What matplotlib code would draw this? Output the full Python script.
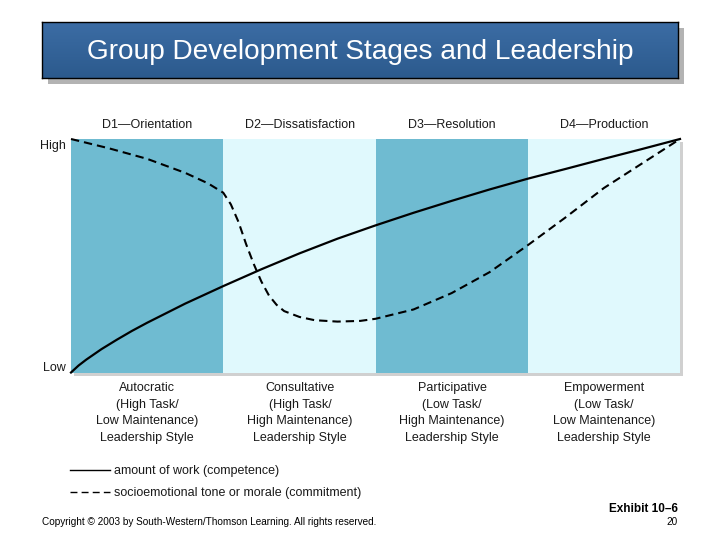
import numpy as np
import matplotlib
matplotlib.use("Agg")
import matplotlib.pyplot as plt
from matplotlib.patches import Rectangle
from matplotlib.lines import Line2D

# stages and labels
stages = ["D1\u2014Orientation", "D2\u2014Dissatisfaction", "D3\u2014Resolution", "D4\u2014Production"]
styles = [
    "Autocratic\n(High Task/\nLow Maintenance)\nLeadership Style",
    "Consultative\n(High Task/\nHigh Maintenance)\nLeadership Style",
    "Participative\n(Low Task/\nHigh Maintenance)\nLeadership Style",
    "Empowerment\n(Low Task/\nLow Maintenance)\nLeadership Style",
]
band_colors = ["#6fbbd1", "#e0f9fd", "#6fbbd1", "#e0f9fd"]

# amount of work (competence) - solid
work_x = [0, 0.05, 0.1, 0.2, 0.3, 0.4, 0.5, 0.75, 1.0, 1.25, 1.5, 1.75, 2.0, 2.25, 2.5, 2.75, 3.0, 3.25, 3.5, 3.75, 4.0]
work_y = [0, 0.03, 0.055, 0.1, 0.14, 0.178, 0.213, 0.295, 0.37, 0.442, 0.51, 0.573, 0.63, 0.684, 0.735, 0.784, 0.83, 0.872, 0.915, 0.957, 1.0]

# socioemotional tone or morale (commitment) - dashed
morale_x = [0, 0.25, 0.5, 0.75, 0.9, 1.0, 1.05, 1.1, 1.15, 1.2, 1.25, 1.3, 1.35, 1.4, 1.5, 1.6, 1.75, 1.9, 2.0, 2.25, 2.5, 2.75, 3.0, 3.25, 3.5, 3.75, 4.0]
morale_y = [1.0, 0.96, 0.915, 0.855, 0.81, 0.77, 0.72, 0.645, 0.55, 0.465, 0.39, 0.33, 0.29, 0.263, 0.238, 0.224, 0.218, 0.221, 0.23, 0.27, 0.34, 0.43, 0.545, 0.665, 0.79, 0.895, 1.0]

W, H = 720, 540
FONT = ["Liberation Sans", "DejaVu Sans"]
plt.rcParams["font.family"] = FONT
TXT = "#1a1a1a"
FS = 9

fig = plt.figure(figsize=(7.2, 5.4), dpi=100)
fig.patch.set_facecolor("white")


def fx(px):
    return px / W


def fy(py):
    return 1 - py / H


# title box with shadow
fig.patches.append(Rectangle((fx(48), fy(84)), fx(636), 56 / H, transform=fig.transFigure,
                             facecolor="#b3b3b3", edgecolor="none", zorder=0))
tax = fig.add_axes([fx(42), fy(78), fx(636), 56 / H], zorder=2)
grad = np.linspace(0, 1, 100).reshape(-1, 1)
cmap = matplotlib.colors.LinearSegmentedColormap.from_list("tb", ["#3c6da5", "#2c5a8d"])
tax.imshow(grad, aspect="auto", cmap=cmap, extent=[0, 1, 0, 1], origin="upper")
tax.set_xticks([])
tax.set_yticks([])
for s in tax.spines.values():
    s.set_color("black")
    s.set_linewidth(1.0)
tax.text(0.5, 0.47, "Group Development Stages and Leadership", color="white", fontsize=20.2,
         ha="center", va="center", transform=tax.transAxes)

# plot area shadow
fig.patches.append(Rectangle((fx(74), fy(375.5)), fx(609), 233.5 / H, transform=fig.transFigure,
                             facecolor="#d0d0d0", edgecolor="none", zorder=0))
ax = fig.add_axes([fx(71), fy(372.5), fx(609), 233.5 / H], zorder=1)
for i, c in enumerate(band_colors):
    ax.axvspan(i, i + 1, color=c, lw=0)
ax.plot(work_x, work_y, color="black", lw=1.6, clip_on=False, zorder=3)
ax.plot(morale_x, morale_y, color="black", lw=1.5, dashes=(4, 2.4), clip_on=False, zorder=3)
ax.set_xlim(0, 4)
ax.set_ylim(0, 1)
ax.axis("off")

# stage labels
centers = [147, 300, 452, 604]
for cx, lab in zip(centers, stages):
    fig.text(fx(cx), fy(125), lab, ha="center", va="center", fontsize=FS, color=TXT)
for cx, lab in zip(centers, styles):
    fig.text(fx(cx), fy(382), lab, ha="center", va="top", fontsize=FS, color=TXT,
             linespacing=1.52)

fig.text(fx(66), fy(146), "High", ha="right", va="center", fontsize=FS, color=TXT)
fig.text(fx(66), fy(368), "Low", ha="right", va="center", fontsize=FS, color=TXT)

# legend
fig.add_artist(Line2D([fx(70), fx(110)], [fy(470), fy(470)], color="black", lw=1.0,
                      transform=fig.transFigure))
fig.add_artist(Line2D([fx(70), fx(110)], [fy(492), fy(492)], color="black", lw=1.0,
                      dashes=(5, 3), transform=fig.transFigure))
fig.text(fx(114), fy(471), "amount of work (competence)", ha="left", va="center",
         fontsize=FS, color=TXT)
fig.text(fx(114), fy(493), "socioemotional tone or morale (commitment)", ha="left", va="center",
         fontsize=FS, color=TXT)

# footer
fig.text(fx(42), fy(522), "Copyright \u00a9 2003 by South-Western/Thomson Learning. All rights reserved.",
         ha="left", va="center", fontsize=7.2)
fig.text(fx(678), fy(509), "Exhibit 10\u20136", ha="right", va="center", fontsize=8.5,
         fontweight="bold")
fig.text(fx(678), fy(522), "20", ha="right", va="center", fontsize=7.2)

fig.savefig("out.png", dpi=100)
